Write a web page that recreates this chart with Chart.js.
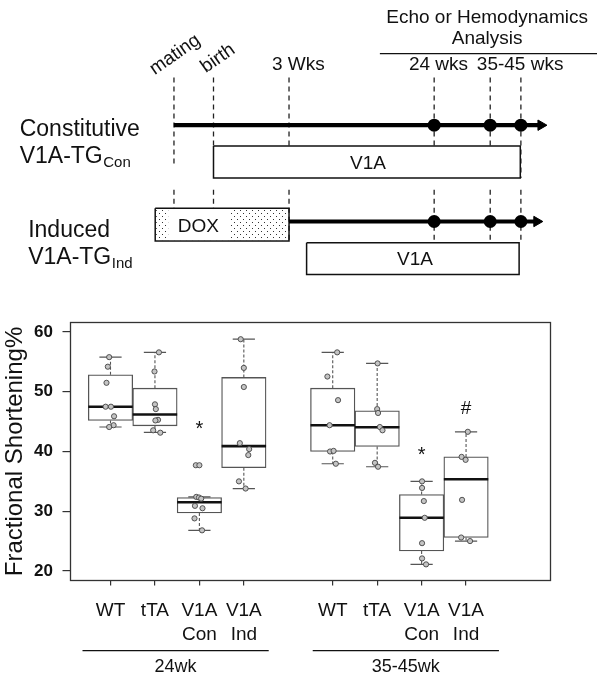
<!DOCTYPE html>
<html><head><meta charset="utf-8">
<script src="https://cdn.jsdelivr.net/npm/chart.js@4.4.1/dist/chart.umd.min.js"></script>
<style>
html,body{margin:0;padding:0;background:#fff;}
#wrap{position:relative;width:604px;height:675px;overflow:hidden;background:#fff;}
#tl{position:absolute;left:0;top:0;}
#bp{position:absolute;left:0;top:300px;}
</style></head><body>
<div id="wrap"><canvas id="tl" width="604" height="300"></canvas><canvas id="bp" width="604" height="375"></canvas></div>
<script>
// ================= Box plot data =================
const positions   = [1, 2, 3, 4, 6, 7, 8, 9];
const tickLine1   = ['WT', 'tTA', 'V1A', 'V1A', 'WT', 'tTA', 'V1A', 'V1A'];
const tickLine2   = ['', '', 'Con', 'Ind', '', '', 'Con', 'Ind'];
const groupLabels = ['24wk', '35-45wk'];
const groupStart  = [0.37, 5.55];
const groupEnd    = [4.56, 9.74];
const yTicks      = [20, 30, 40, 50, 60];
const yTitle      = 'Fractional Shortening%';

const whiskerLow  = [44.1, 43.2, 26.8, 33.8, 37.95, 37.45, 21.1, 25.0];
const q1          = [45.2, 44.3, 29.7, 37.3, 40.0, 40.85, 23.35, 25.6];
const median      = [47.5, 46.2, 31.5, 40.9, 44.4, 44.05, 28.9, 35.35];
const q3          = [52.85, 50.6, 32.3, 52.4, 50.6, 46.8, 32.8, 39.1];
const whiskerHigh = [55.8, 56.6, 32.4, 58.8, 56.6, 54.75, 35.0, 43.3];

// individual animals (value, horizontal jitter)
const wt24Values   = [55.8, 54.2, 51.5, 47.5, 47.5, 45.9, 44.4, 44.1];
const wt24Jitter   = [-0.03, -0.06, -0.09, -0.11, 0.01, 0.08, 0.07, -0.03];
const tta24Values  = [56.6, 53.4, 47.9, 47.1, 45.3, 45.2, 43.55, 43.15];
const tta24Jitter  = [0.09, -0.01, 0.0, 0.02, 0.07, 0.01, -0.04, 0.12];
const con24Values  = [37.7, 37.7, 32.4, 32.3, 32.1, 30.9, 30.5, 28.8, 26.8];
const con24Jitter  = [-0.08, 0.0, -0.07, -0.01, 0.04, -0.1, 0.07, -0.11, 0.06];
const ind24Values  = [58.8, 54.0, 50.8, 41.4, 40.4, 39.4, 35.0, 33.8];
const ind24Jitter  = [-0.07, 0.0, 0.0, -0.09, 0.12, 0.1, -0.11, 0.04];
const wt45Values   = [56.6, 52.55, 48.6, 44.4, 40.0, 40.1, 37.95];
const wt45Jitter   = [0.1, -0.12, 0.12, -0.07, -0.06, 0.02, 0.07];
const tta45Values  = [54.75, 47.1, 46.45, 44.1, 43.55, 38.1, 37.45];
const tta45Jitter  = [0.01, 0.0, 0.02, 0.06, 0.12, -0.05, 0.02];
const con45Values  = [35.0, 33.9, 31.7, 28.9, 24.65, 22.1, 21.1];
const con45Jitter  = [0.01, 0.01, 0.05, 0.07, 0.01, 0.01, 0.1];
const ind45Values  = [43.3, 39.1, 38.6, 31.9, 25.6, 25.0];
const ind45Jitter  = [0.04, -0.1, -0.01, -0.09, -0.11, 0.09];

const sigText = ['*', '*', '#'];
const sigPos  = [3, 8, 9];
const sigY    = [44.4, 40.1, 47.35];

// ================= Timeline schematic (x: 0-100 across, y: 0-100 down) =================
const tlEventLabels = ['mating', 'birth', '3 Wks', '24 wks', '35-45 wks'];
const tlEventPos    = [28.3, 35.0, 47.8, 72.4, 81.9, 87.1]; // mating, birth, 3wk, 24wk, 35wk, 45wk
const tlAnalysisIdx = [3, 4, 5];
const tlConRowY = 41.33, tlIndRowY = 75.0;
const tlConArrowEnd = 90.5, tlIndArrowEnd = 89.8;
const tlConDashTop = 24.67, tlConDashBottom = [55.67, 48.57, 48.57, 48.57, 48.57, 59.77];
const tlIndDashTop = 63.9, tlIndDashBottom = 82.23;
const tlConBox = [35.0, 87.0, 48.57, 59.77];   // x0, x1, y0, y1
const tlDoxBox = [25.12, 47.8, 70.33, 81.83];
const tlIndBox = [50.78, 86.8, 82.43, 93.57];

const FONT = "'Liberation Sans', Arial, Helvetica, sans-serif";
const INK = '#111';

// ---------- helpers ----------
function rect(b) { return [{x:b[0],y:b[2]},{x:b[1],y:b[2]},{x:b[1],y:b[3]},{x:b[0],y:b[3]},{x:b[0],y:b[2]}]; }
function dotPattern(ctx) {
  const c = document.createElement('canvas'); c.width = 6; c.height = 6;
  const g = c.getContext('2d');
  g.fillStyle = '#fff'; g.fillRect(0,0,6,6);
  g.fillStyle = '#333'; g.fillRect(0,0,1,1); g.fillRect(3,3,1,1);
  return ctx.createPattern(c, 'repeat');
}

// ================= Timeline chart =================
const conDash = [], indDash = [];
tlEventPos.forEach((p, i) => {
  conDash.push({x:p, y:tlConDashTop}, {x:p, y:tlConDashBottom[i]}, {x:p, y:null});
  indDash.push({x:p, y:tlIndDashTop}, {x:p, y:tlIndDashBottom}, {x:p, y:null});
});
const dots = [];
tlAnalysisIdx.forEach(i => { dots.push({x:tlEventPos[i], y:tlConRowY}, {x:tlEventPos[i], y:tlIndRowY}); });

const tlTextPlugin = {
  id: 'tlText',
  afterDatasetsDraw(chart) {
    const {ctx} = chart; const sx = chart.scales.x, sy = chart.scales.y;
    const X = v => sx.getPixelForValue(v), Y = v => sy.getPixelForValue(v);
    ctx.save();
    // DOX pattern fill and white label area
    const d = tlDoxBox;
    ctx.fillStyle = dotPattern(ctx);
    ctx.fillRect(X(d[0]) + 1, Y(d[2]) + 1, X(d[1]) - X(d[0]) - 2, Y(d[3]) - Y(d[2]) - 2);
    ctx.fillStyle = '#fff';
    ctx.fillRect(X(27.32), Y(d[2]) + 1, X(37.8) - X(27.32), Y(d[3]) - Y(d[2]) - 2);

    ctx.fillStyle = INK;
    ctx.textBaseline = 'alphabetic';
    // rotated event labels
    ctx.font = '19px ' + FONT; ctx.textAlign = 'center';
    [[0, 28.48, 16.67], [1, 35.76, 18.0]].forEach(([i, u, v]) => {
      ctx.save(); ctx.translate(X(u), Y(v)); ctx.rotate(-35 * Math.PI / 180);
      ctx.textBaseline = 'middle'; ctx.fillText(tlEventLabels[i], 0, 0); ctx.restore();
    });
    ctx.fillText(tlEventLabels[2], X(49.39), Y(21.9));
    ctx.fillText(tlEventLabels[3], X(73.13), Y(21.9));
    ctx.fillText(tlEventLabels[4], X(86.97), Y(21.9));
    // analysis header
    ctx.fillText('Echo or Hemodynamics', X(81.37), Y(5.57));
    ctx.fillText('Analysis', X(81.37), Y(13.1));
    ctx.strokeStyle = INK; ctx.lineWidth = 1.3;
    ctx.beginPath(); ctx.moveTo(X(63.2), Y(16.33)); ctx.lineTo(X(100), Y(16.33)); ctx.stroke();
    // box labels
    ctx.fillText('V1A', X(61.18), Y(56.67));
    ctx.fillText('V1A', X(69.14), Y(90.23));
    ctx.fillText('DOX', X(32.45), Y(78.67));
    // row labels
    ctx.textAlign = 'left';
    const row = (title, u, vTitle, vMain, vSub, sub) => {
      ctx.font = '23px ' + FONT;
      ctx.fillText(title, X(u), Y(vTitle));
      ctx.fillText('V1A-TG', X(u), Y(vMain));
      const w = ctx.measureText('V1A-TG').width;
      ctx.font = '15px ' + FONT;
      ctx.fillText(sub, X(u) + w + 0.5, Y(vSub));
    };
    row('Constitutive', 2.15, 45.0, 54.43, 55.9, 'Con');
    row('Induced', 3.59, 80.57, 89.77, 91.33, 'Ind');
    ctx.restore();
  }
};

new Chart(document.getElementById('tl'), {
  type: 'scatter',
  data: { datasets: [
    { type:'line', data: conDash, borderColor:'#222', borderWidth:1.3, borderDash:[5,4], pointRadius:0, spanGaps:false, fill:false, order:5 },
    { type:'line', data: indDash, borderColor:'#222', borderWidth:1.3, borderDash:[5,4], pointRadius:0, spanGaps:false, fill:false, order:5 },
    { type:'line', data: rect(tlConBox), borderColor:'#111', borderWidth:1.5, pointRadius:0, fill:false, tension:0, order:4 },
    { type:'line', data: rect(tlDoxBox), borderColor:'#111', borderWidth:1.5, pointRadius:0, fill:false, tension:0, order:4 },
    { type:'line', data: rect(tlIndBox), borderColor:'#111', borderWidth:1.5, pointRadius:0, fill:false, tension:0, order:4 },
    { type:'line', data: [{x:tlEventPos[0], y:tlConRowY}, {x:tlConArrowEnd, y:tlConRowY}], borderColor:'#000', borderWidth:4.2,
      pointRadius:[0,6], pointStyle:'triangle', pointRotation:90, pointBackgroundColor:'#000', pointBorderColor:'#000', pointBorderWidth:1, fill:false, order:2 },
    { type:'line', data: [{x:tlEventPos[2], y:tlIndRowY}, {x:tlIndArrowEnd, y:tlIndRowY}], borderColor:'#000', borderWidth:4.2,
      pointRadius:[0,6], pointStyle:'triangle', pointRotation:90, pointBackgroundColor:'#000', pointBorderColor:'#000', pointBorderWidth:1, fill:false, order:2 },
    { type:'scatter', data: dots, pointRadius:6.5, pointBackgroundColor:'#000', pointBorderColor:'#000', pointBorderWidth:0, order:1 }
  ]},
  options: {
    responsive:false, animation:false, events:[], devicePixelRatio:1,
    layout:{padding:0},
    plugins:{legend:{display:false}, tooltip:{enabled:false}},
    scales:{
      x:{type:'linear', min:0, max:100, display:false},
      y:{type:'linear', min:0, max:100, reverse:true, display:false}
    }
  },
  plugins:[tlTextPlugin]
});

// ================= Box plot chart =================
const groupsV = [wt24Values, tta24Values, con24Values, ind24Values, wt45Values, tta45Values, con45Values, ind45Values];
const groupsJ = [wt24Jitter, tta24Jitter, con24Jitter, ind24Jitter, wt45Jitter, tta45Jitter, con45Jitter, ind45Jitter];
const pts = [];
groupsV.forEach((vals, g) => vals.forEach((v, k) => pts.push({x: positions[g] + groupsJ[g][k], y: v})));
const whiskers = [];
positions.forEach((p, i) => {
  whiskers.push({x:p, y:q3[i]}, {x:p, y:whiskerHigh[i]}, {x:p, y:null}, {x:p, y:q1[i]}, {x:p, y:whiskerLow[i]}, {x:p, y:null});
});
const caps = [];
positions.forEach((p, i) => caps.push({x:p, y:whiskerLow[i]}, {x:p, y:whiskerHigh[i]}));
const halfBox = chart => { const s = chart.scales.x; return (s.getPixelForValue(2) - s.getPixelForValue(1)) / 2; };

const bpPlugin = {
  id: 'bpExtras',
  afterDraw(chart) {
    const {ctx, chartArea:a} = chart; const sx = chart.scales.x, sy = chart.scales.y;
    ctx.save();
    ctx.strokeStyle = '#333'; ctx.lineWidth = 1.3;
    ctx.strokeRect(a.left, a.top, a.right - a.left, a.bottom - a.top);
    // significance marks
    ctx.fillStyle = INK; ctx.textAlign = 'center'; ctx.textBaseline = 'alphabetic';
    sigText.forEach((t, i) => {
      ctx.font = (t === '#' ? '19px ' : '20px ') + FONT;
      const m = ctx.measureText(t);
      const cy = sy.getPixelForValue(sigY[i]);
      ctx.fillText(t, sx.getPixelForValue(sigPos[i]), cy + (m.actualBoundingBoxAscent - m.actualBoundingBoxDescent) / 2);
    });
    // group underlines and labels
    ctx.strokeStyle = INK; ctx.lineWidth = 1.3; ctx.font = '18px ' + FONT;
    groupLabels.forEach((g, i) => {
      const x0 = sx.getPixelForValue(groupStart[i]), x1 = sx.getPixelForValue(groupEnd[i]);
      ctx.beginPath(); ctx.moveTo(x0, a.bottom + 70.2); ctx.lineTo(x1, a.bottom + 70.2); ctx.stroke();
      ctx.fillText(g, (x0 + x1) / 2, a.bottom + 91.2);
    });
    ctx.restore();
  }
};

new Chart(document.getElementById('bp'), {
  type: 'bar',
  data: { datasets: [
    { type:'bar', data: positions.map((p, i) => ({x:p, y:[q1[i], q3[i]]})), backgroundColor:'#fff', borderColor:'#555',
      borderWidth:1.3, borderSkipped:false, barPercentage:1, categoryPercentage:1, order:5 },
    { type:'line', data: whiskers, borderColor:'#555', borderWidth:1.1, borderDash:[3,2], pointRadius:0, spanGaps:false, fill:false, order:4 },
    { type:'scatter', data: caps, pointStyle:'line', pointRadius: ctx => halfBox(ctx.chart) / 2, pointBorderColor:'#555', pointBorderWidth:1.2, order:3 },
    { type:'scatter', data: positions.map((p, i) => ({x:p, y:median[i]})), pointStyle:'line', pointRadius: ctx => halfBox(ctx.chart),
      pointBorderColor:'#111', pointBorderWidth:2.6, order:2 },
    { type:'scatter', data: pts, pointRadius:2.6, pointBackgroundColor:'#c4c4c4', pointBorderColor:'#444', pointBorderWidth:0.9, order:1 }
  ]},
  options: {
    responsive:false, animation:false, events:[], devicePixelRatio:1,
    layout:{padding:{top:22.5, right:53.5, left:0, bottom:0}},
    plugins:{legend:{display:false}, tooltip:{enabled:false}},
    scales:{
      x:{ type:'linear', min:0.1, max:10.9, offset:false,
          afterBuildTicks: s => { s.ticks = positions.map(v => ({value:v})); },
          afterFit: s => { s.height = 94.5; },
          grid:{ display:true, drawOnChartArea:false, drawTicks:true, tickLength:5, color:'#333', lineWidth:1.2, offset:false },
          border:{ display:false },
          ticks:{ autoSkip:false, maxRotation:0, minRotation:0, padding:14, color:INK,
                  font:{ family:FONT, size:19, lineHeight:1.226 },
                  callback: (v) => { const k = positions.indexOf(v); return tickLine2[k] ? [tickLine1[k], tickLine2[k]] : tickLine1[k]; } }
      },
      y:{ type:'linear', min:18.4, max:61.6,
          afterBuildTicks: s => { s.ticks = yTicks.map(v => ({value:v})); },
          afterFit: s => { s.width = 70.5; },
          grid:{ display:true, drawOnChartArea:false, drawTicks:true, tickLength:8, color:'#333', lineWidth:1.2 },
          border:{ display:false },
          ticks:{ padding:9.5, color:INK, font:{ family:FONT, size:17, weight:'bold' } },
          title:{ display:true, text:yTitle, color:INK, font:{ family:FONT, size:24 }, padding:{top:1, bottom:0} }
      }
    }
  },
  plugins:[bpPlugin]
});
</script>
</body></html>
